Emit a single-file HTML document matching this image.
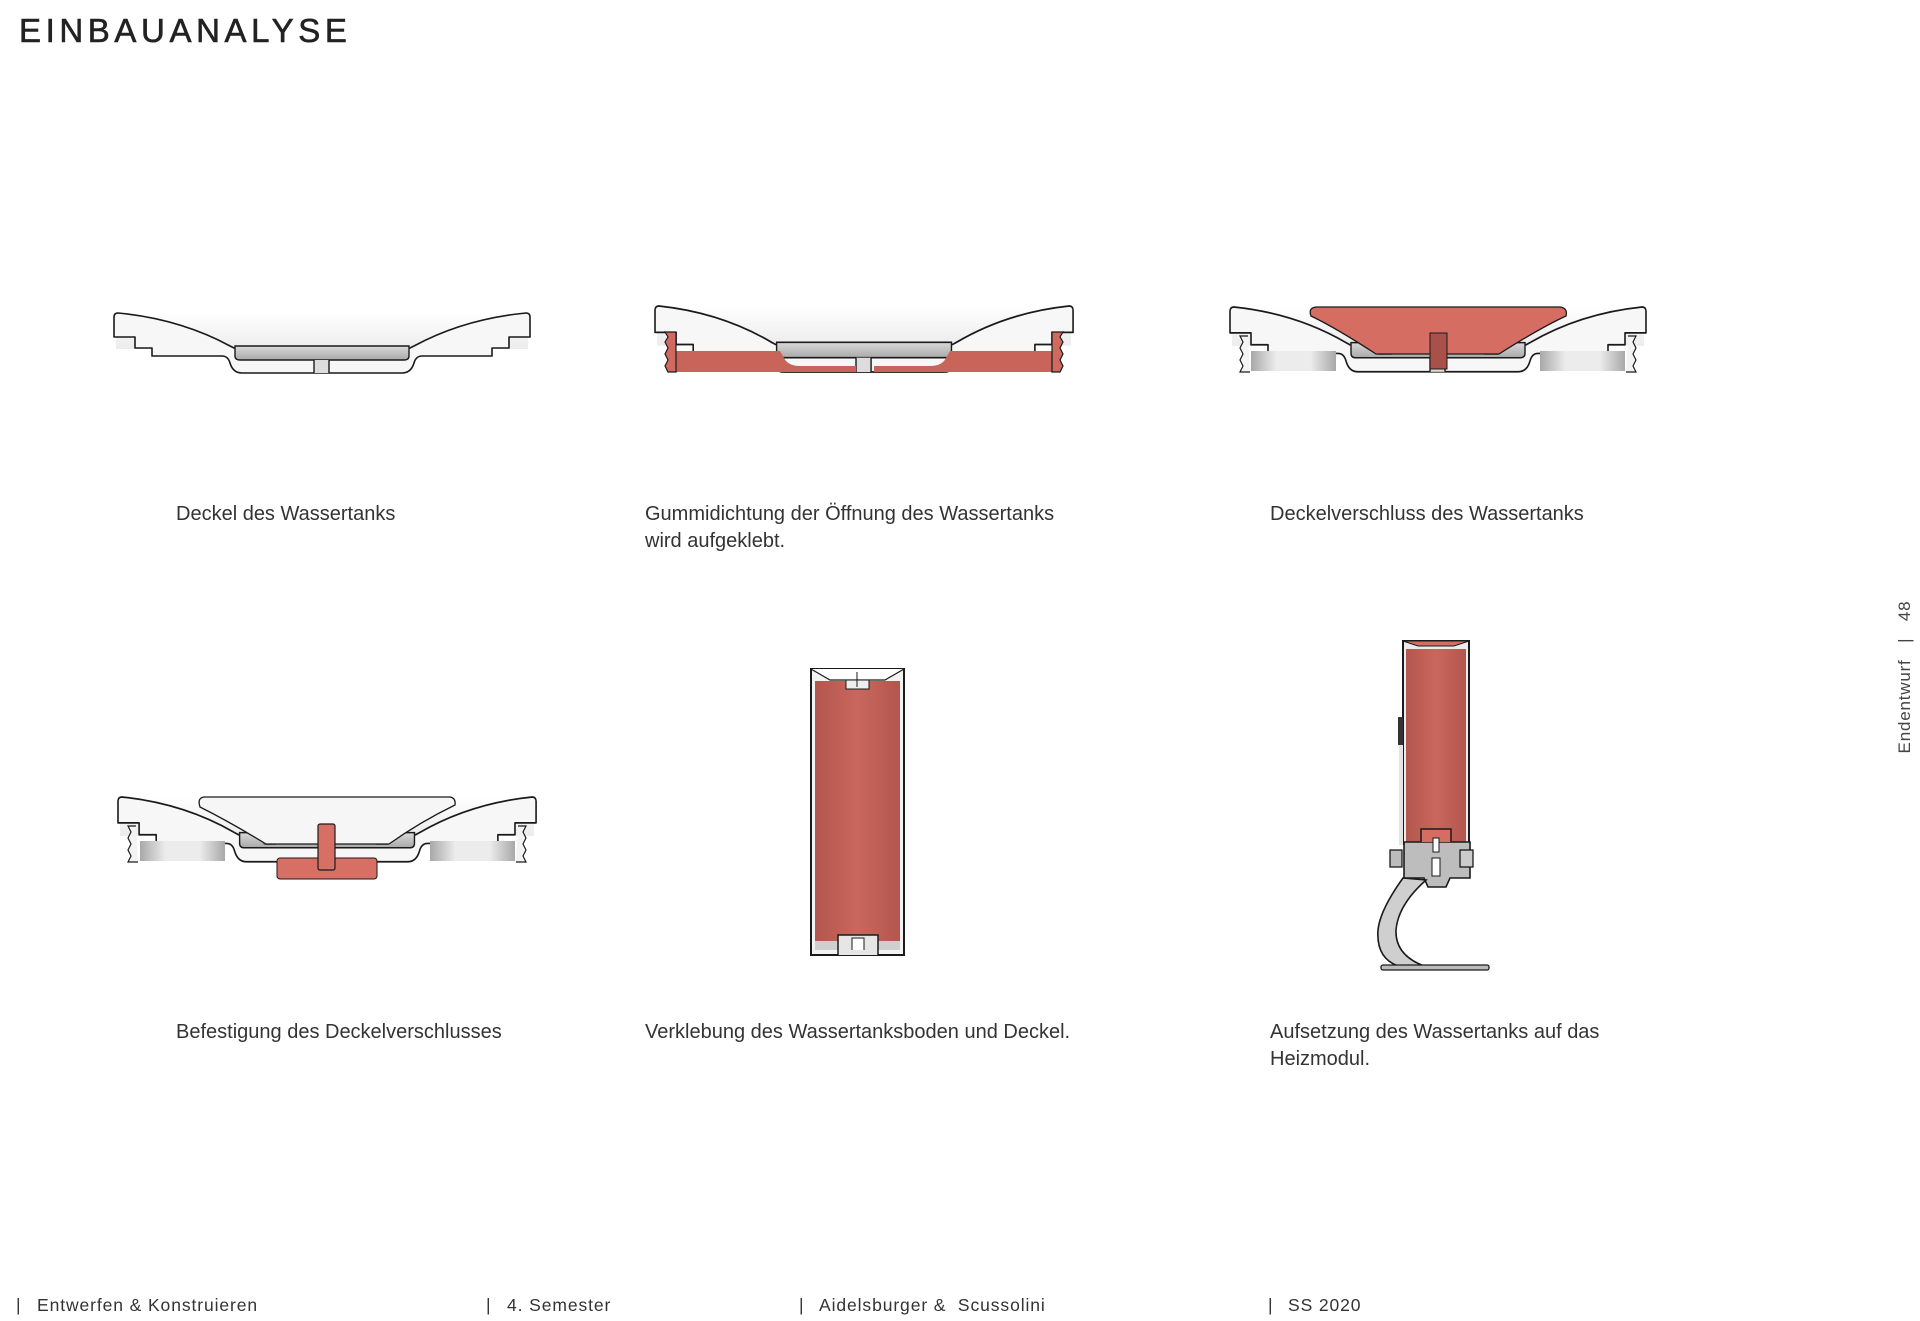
<!DOCTYPE html>
<html><head><meta charset="utf-8"><style>
html,body{margin:0;padding:0;background:#fff;}
body{width:1920px;height:1321px;position:relative;overflow:hidden;font-family:"Liberation Sans",sans-serif;color:#333;}
.t{position:absolute;white-space:nowrap;}
h1{position:absolute;left:19px;top:12px;margin:0;font-size:33px;font-weight:normal;letter-spacing:4.6px;color:#222;font-family:"Liberation Sans",sans-serif;-webkit-text-stroke:0.6px #222;}
.cap{font-size:20px;line-height:27px;color:#333;}
.ft{font-size:17.5px;color:#333;letter-spacing:0.9px;}
svg{position:absolute;left:0;top:0;}
</style></head><body>
<h1>EINBAUANALYSE</h1>

<svg width="1920" height="1321" viewBox="0 0 1920 1321">
<defs>
<linearGradient id="bowl" x1="0" y1="0" x2="0" y2="1"><stop offset="0" stop-color="#fff"/><stop offset="1" stop-color="#ececec"/></linearGradient>
<linearGradient id="floor" x1="0" y1="0" x2="0" y2="1"><stop offset="0" stop-color="#d9d9d9"/><stop offset="1" stop-color="#a9a9a9"/></linearGradient>
<linearGradient id="gband" x1="0" y1="0" x2="1" y2="0"><stop offset="0" stop-color="#a8a8a8"/><stop offset="0.3" stop-color="#ececec"/><stop offset="0.7" stop-color="#ececec"/><stop offset="1" stop-color="#a8a8a8"/></linearGradient>
<linearGradient id="redh" x1="0" y1="0" x2="1" y2="0"><stop offset="0" stop-color="#b3564e"/><stop offset="0.5" stop-color="#c9675d"/><stop offset="1" stop-color="#b3564e"/></linearGradient>
<linearGradient id="redb" x1="0" y1="0" x2="1" y2="0"><stop offset="0" stop-color="#f1d9d6"/><stop offset="0.12" stop-color="#c9645b"/><stop offset="0.88" stop-color="#c9645b"/><stop offset="1" stop-color="#f1d9d6"/></linearGradient>
<g id="lid">
 <rect x="2" y="0" width="412" height="36" fill="url(#bowl)"/>
 <path d="M4,0 Q0,0 0,4 L0,24 L21,24 L21,35 L38,35 L38,43 L108,43 Q114,43 116,50 Q119,60 128,60 L288,60 Q297,60 300,50 Q302,43 308,43 L378,43 L378,35 L395,35 L395,24 L416,24 L416,4 Q416,0 412,0 Q350,6 300,33 L296,35 L120,35 L116,33 Q66,6 4,0Z" fill="#f7f7f7" stroke="#1a1a1a" stroke-width="1.6" stroke-linejoin="round"/>
 <path d="M121,33 L121,43 Q121,47 126,47 L290,47 Q295,47 295,43 L295,33Z" fill="url(#floor)" stroke="#1a1a1a" stroke-width="1.4"/>
 <rect x="200" y="47" width="15" height="13" fill="#dcdcdc"/>
 <path d="M200,47 L200,60 M215,47 L215,60" stroke="#1a1a1a" stroke-width="1.4"/>
</g>
</defs>

<use href="#lid" transform="translate(114,313)"/>

<rect x="674" y="351" width="382" height="21" fill="url(#redb)"/>
<use href="#lid" transform="translate(655,306) scale(1.005,1.1)"/>
<path d="M674,351 L780,351 L784,358 Q788,366 800,366 L856,366 L856,372 L674,372Z" fill="#c9645b"/>
<path d="M1056,351 L950,351 L946,358 Q942,366 930,366 L874,366 L874,372 L1056,372Z" fill="#c9645b"/>
<path d="M665,332 L676,332 L676,372 L668,372 L665,366 L668,360 L665,354 L668,348 L665,342 L668,337Z" fill="#d06a60" stroke="#1a1a1a" stroke-width="1.2"/>
<path d="M1063,332 L1052,332 L1052,372 L1060,372 L1063,366 L1060,360 L1063,354 L1060,348 L1063,342 L1060,337Z" fill="#d06a60" stroke="#1a1a1a" stroke-width="1.2"/>

<use href="#lid" transform="translate(1230,307) scale(1,1.08)"/>
<rect x="1251" y="351" width="85" height="20" fill="url(#gband)"/>
<rect x="1540" y="351" width="85" height="20" fill="url(#gband)"/>
<path d="M1248,336 L1240,336 L1243,342 L1240,348 L1243,354 L1240,360 L1243,366 L1240,372 L1250,372" fill="#f3f3f3" stroke="#1a1a1a" stroke-width="1.2"/>
<path d="M1628,336 L1636,336 L1633,342 L1636,348 L1633,354 L1636,360 L1633,366 L1636,372 L1626,372" fill="#f3f3f3" stroke="#1a1a1a" stroke-width="1.2"/>
<path d="M1340,317 Q1370,340 1378,355 L1392,355 Q1375,330 1350,312Z" fill="#777"/>
<path d="M1536,317 Q1506,340 1498,355 L1484,355 Q1501,330 1526,312Z" fill="#777"/>
<path d="M1316,307 L1560,307 Q1568,308 1566,316 Q1540,328 1499,354 L1376,354 Q1336,328 1311,316 Q1308,308 1316,307Z" fill="#d66d62" stroke="#1a1a1a" stroke-width="1.3"/>
<rect x="1430" y="333" width="17" height="36" fill="#a9504a" stroke="#1a1a1a" stroke-width="1"/>

<use href="#lid" transform="translate(118,797) scale(1.005,1.08)"/>
<rect x="140" y="841" width="85" height="20" fill="url(#gband)"/>
<rect x="430" y="841" width="85" height="20" fill="url(#gband)"/>
<path d="M136,826 L128,826 L131,832 L128,838 L131,844 L128,850 L131,856 L128,862 L138,862" fill="#f3f3f3" stroke="#1a1a1a" stroke-width="1.2"/>
<path d="M518,826 L526,826 L523,832 L526,838 L523,844 L526,850 L523,856 L526,862 L516,862" fill="#f3f3f3" stroke="#1a1a1a" stroke-width="1.2"/>
<path d="M232,812 Q255,830 264,845 L276,845 Q262,822 240,805Z" fill="#6f6f6f"/>
<path d="M420,812 Q397,830 388,845 L376,845 Q390,822 412,805Z" fill="#6f6f6f"/>
<path d="M204,797 L450,797 Q456,798 455,805 Q420,822 389,844 L266,844 Q230,822 200,807 Q197,798 204,797Z" fill="#f6f6f6" stroke="#1a1a1a" stroke-width="1.3"/>
<rect x="277" y="858" width="100" height="21" rx="3" fill="#d86f64" stroke="#1a1a1a" stroke-width="1"/>
<rect x="318" y="824" width="17" height="46" rx="2" fill="#d86f64" stroke="#1a1a1a" stroke-width="1.2"/>

<rect x="811" y="669" width="93" height="286" fill="#f2f2f2" stroke="#1a1a1a" stroke-width="2"/>
<rect x="815" y="681" width="85" height="260" fill="url(#redh)"/>
<path d="M811,669 L830,680 L885,680 L904,669" fill="#fff" stroke="#1a1a1a" stroke-width="1.2"/>
<rect x="846" y="680" width="23" height="9" fill="#eee" stroke="#1a1a1a" stroke-width="1"/>
<line x1="857" y1="672" x2="857" y2="687" stroke="#1a1a1a" stroke-width="1"/>
<rect x="815" y="941" width="85" height="9" fill="#cfcfcf"/>
<path d="M838,955 L838,935 L878,935 L878,955" fill="#e6e6e6" stroke="#1a1a1a" stroke-width="1.5"/>
<path d="M852,950 L852,938 L864,938 L864,950" fill="#fff" stroke="#1a1a1a" stroke-width="1"/>

<rect x="1403" y="641" width="66" height="203" fill="#ececec" stroke="#1a1a1a" stroke-width="2"/>
<rect x="1406" y="649" width="60" height="193" fill="url(#redh)"/>
<path d="M1403,641 L1418,646 L1454,646 L1469,641Z" fill="#d66d62" stroke="#1a1a1a" stroke-width="1"/>
<rect x="1398" y="717" width="5" height="28" fill="#333"/>
<rect x="1399" y="745" width="4" height="100" fill="#e3e3e3"/>
<path d="M1404,842 L1470,842 L1470,878 L1450,878 L1446,887 L1428,887 L1424,878 L1404,878Z" fill="#bdbdbd" stroke="#1a1a1a" stroke-width="1.6"/>
<path d="M1421,842 L1421,829 L1451,829 L1451,842" fill="#d66d62" stroke="#1a1a1a" stroke-width="1.5"/>
<rect x="1433" y="838" width="6" height="14" fill="#fff" stroke="#1a1a1a" stroke-width="1"/>
<rect x="1432" y="858" width="8" height="18" fill="#fff" stroke="#1a1a1a" stroke-width="1"/>
<rect x="1390" y="850" width="12" height="17" fill="#bbb" stroke="#1a1a1a" stroke-width="1.3"/>
<rect x="1460" y="850" width="13" height="17" fill="#ccc" stroke="#1a1a1a" stroke-width="1.3"/>
<path d="M1403,878 Q1380,910 1378,930 Q1376,958 1398,966 L1424,966 Q1395,955 1396,930 Q1398,905 1426,880Z" fill="#cfcfcf" stroke="#1a1a1a" stroke-width="1.6"/>
<rect x="1381" y="965" width="108" height="5" rx="2" fill="#bbb" stroke="#1a1a1a" stroke-width="1.3"/>
</svg>

<div class="t cap" style="left:176px;top:501px;">Deckel des Wassertanks</div>
<div class="t cap" style="left:645px;top:501px;">Gummidichtung der Öffnung des Wassertanks<br>wird aufgeklebt.</div>
<div class="t cap" style="left:1270px;top:501px;">Deckelverschluss des Wassertanks</div>
<div class="t cap" style="left:176px;top:1019px;">Befestigung des Deckelverschlusses</div>
<div class="t cap" style="left:645px;top:1019px;">Verklebung des Wassertanksboden und Deckel.</div>
<div class="t cap" style="left:1270px;top:1019px;">Aufsetzung des Wassertanks auf das<br>Heizmodul.</div>

<div class="t ft" style="left:16px;top:1295px;">|</div><div class="t ft" style="left:37px;top:1295px;">Entwerfen &amp; Konstruieren</div>
<div class="t ft" style="left:486px;top:1295px;">|</div><div class="t ft" style="left:507px;top:1295px;">4. Semester</div>
<div class="t ft" style="left:799px;top:1295px;">|</div><div class="t ft" style="left:819px;top:1295px;">Aidelsburger &amp;&nbsp; Scussolini</div>
<div class="t ft" style="left:1268px;top:1295px;">|</div><div class="t ft" style="left:1288px;top:1295px;">SS 2020</div>

<div class="t" style="left:1905px;top:677px;transform:translate(-50%,-50%) rotate(-90deg);font-size:17px;color:#444;letter-spacing:0.8px;">Endentwurf&nbsp;&nbsp;&nbsp;|&nbsp;&nbsp;&nbsp;48</div>
</body></html>
